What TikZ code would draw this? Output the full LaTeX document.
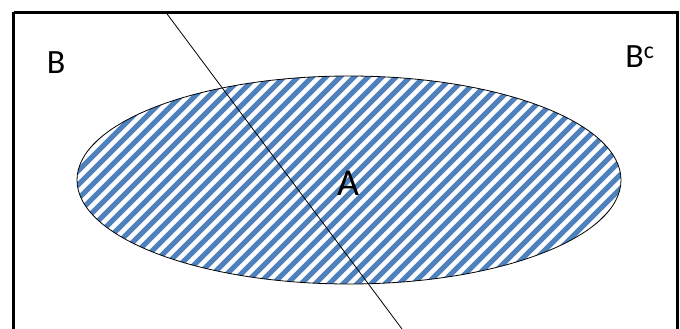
\documentclass[tikz,border=0pt]{standalone}
\usepackage{fontspec}
\setmainfont{Carlito}
\usetikzlibrary{shapes.geometric}
\definecolor{hatchblue}{RGB}{79,129,189}
\tikzset{
  frame/.style={draw=black, line width=3pt},
  thinline/.style={draw=black, line width=0.8pt},
  setlabel/.style={font=\fontsize{34}{40}\selectfont, inner sep=0pt},
  stripe/.style={draw=hatchblue, line width=5pt},
  hatchedellipse/.style={ellipse, draw=black, line width=0.8pt, inner sep=0pt,
    minimum width=544pt, minimum height=208pt,
    path picture={
      \foreach \c in {-700,-686,...,700} {
        \draw[stripe] (\c+300,-300) -- (\c-300,300);
      }
    }}
}
\begin{document}
\begin{tikzpicture}[x=1pt,y=-1pt]
\useasboundingbox (0,0) rectangle (680,329);
\fill[white] (0,0) rectangle (680,329);
\draw[frame] (13.5,12.5) -- (677,12.5) -- (677,340) (13.5,12.5) -- (13.5,340);
\node[hatchedellipse] (A) at (349,180) {};
\node[setlabel] (Alabel) at (348,183) {\fontsize{38}{44}\selectfont A};
\coordinate (ltop) at (166,12.5);
\coordinate (lbot) at (402,329);
\draw[thinline] (ltop) -- (lbot);
\node[setlabel] (B) at (56,63) {B};
\node[setlabel] (Bc) at (640,57) {B\textsuperscript{c}};
\end{tikzpicture}
\end{document}
